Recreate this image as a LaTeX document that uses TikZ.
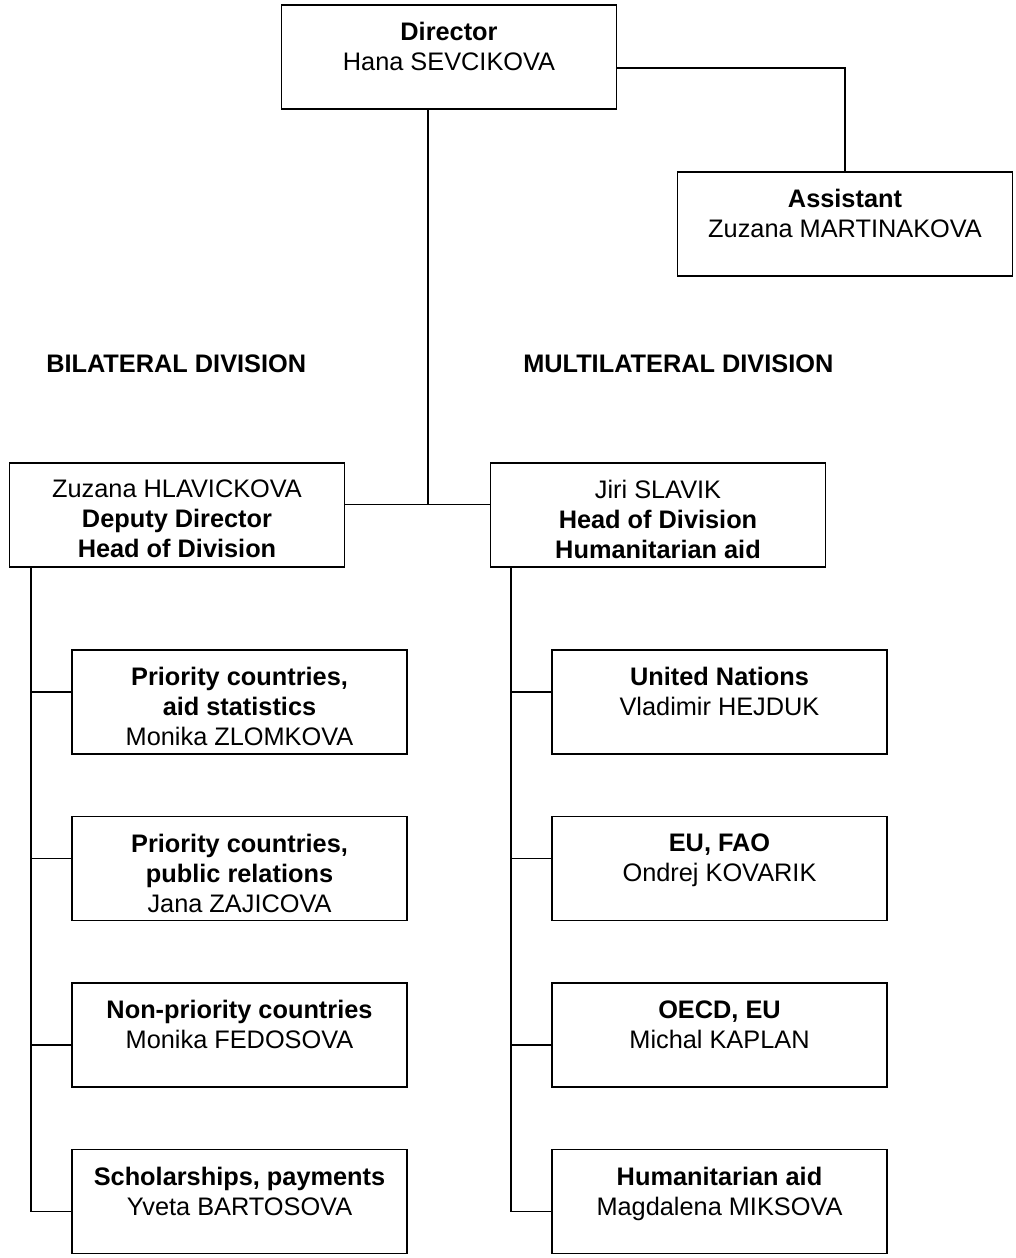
\documentclass[tikz,border=0pt]{standalone}
\usepackage{fontspec}
\setmainfont{Liberation Sans}
\usetikzlibrary{positioning}
\tikzset{
	unit/.style={draw,line width=1.3pt,minimum width=251.25pt,minimum height=78pt,inner sep=0pt,outer sep=0pt},
	txt/.style={align=center,inner sep=0pt,font=\fontsize{19}{22.5}\selectfont},
	link/.style={line width=1.3pt},
}
\begin{document}
\begin{tikzpicture}[x=0.75pt,y=-0.75pt]
	\useasboundingbox (0,0) rectangle (1016,1258);
	% top
	\node[unit] (dir) at (449,57) {};
	\node[txt,below=12.75pt of dir.north] (dirt) {\textbf{Director}\\Hana SEVCIKOVA};
	\node[unit] (asst) at (845,224) {};
	\node[txt,below=12.75pt of asst.north] (asstt) {\textbf{Assistant}\\Zuzana MARTINAKOVA};
	\node[txt,anchor=base west] (bil) at (46,372) {\textbf{BILATERAL DIVISION}};
	\node[txt,anchor=base west] (mul) at (523,372) {\textbf{MULTILATERAL DIVISION}};
	% divisions
	\node[unit] (hlav) at (177,515) {};
	\node[txt,below=12.75pt of hlav.north] (hlavt) {Zuzana HLAVICKOVA\\\textbf{Deputy Director}\\\textbf{Head of Division}};
	\node[unit,right=109.5pt of hlav] (slav) {};
	\node[txt,below=12.75pt of slav.north] (slavt) {Jiri SLAVIK\\\textbf{Head of Division}\\\textbf{Humanitarian aid}};
	% units
	\node[unit] (l1) at (239.5,702) {};
	\node[unit,below=46.9pt of l1] (l2) {};
	\node[unit,below=46.9pt of l2] (l3) {};
	\node[unit,below=46.9pt of l3] (l4) {};
	\node[unit] (r1) at (719.5,702) {};
	\node[unit,below=46.9pt of r1] (r2) {};
	\node[unit,below=46.9pt of r2] (r3) {};
	\node[unit,below=46.9pt of r3] (r4) {};
	\node[txt,below=12.75pt of l1.north] (l1t) {\textbf{Priority countries,}\\\textbf{aid statistics}\\Monika ZLOMKOVA};
	\node[txt,below=12.75pt of l2.north] (l2t) {\textbf{Priority countries,}\\\textbf{public relations}\\Jana ZAJICOVA};
	\node[txt,below=12.75pt of l3.north] (l3t) {\textbf{Non-priority countries}\\Monika FEDOSOVA};
	\node[txt,below=12.75pt of l4.north] (l4t) {\textbf{Scholarships, payments}\\Yveta BARTOSOVA};
	\node[txt,below=12.75pt of r1.north] (r1t) {\textbf{United Nations}\\Vladimir HEJDUK};
	\node[txt,below=12.75pt of r2.north] (r2t) {\textbf{EU, FAO}\\Ondrej KOVARIK};
	\node[txt,below=12.75pt of r3.north] (r3t) {\textbf{OECD, EU}\\Michal KAPLAN};
	\node[txt,below=12.75pt of r4.north] (r4t) {\textbf{Humanitarian aid}\\Magdalena MIKSOVA};
	% lines
	\coordinate (jn) at (428,504.5);
	\coordinate (lsp) at (31,1212);
	\coordinate (rsp) at (511,1212);
	\draw[link] (jn |- dir.south) -- (jn);
	\draw[link] (hlav.east |- jn) -- (slav.west |- jn);
	\draw[link] ([yshift=-8.25pt]dir.east) -| (asst.north);
	\draw[link] (lsp |- hlav.south) -- (lsp);
	\draw[link] (rsp |- slav.south) -- (rsp);
	\foreach \b/\s in {1/7.5pt,2/7.5pt,3/-7.5pt,4/-7.5pt}{
		\draw[link] ([yshift=\s]l\b.west) -- +(-41,0);
		\draw[link] ([yshift=\s]r\b.west) -- +(-41,0);
	}
\end{tikzpicture}
\end{document}
